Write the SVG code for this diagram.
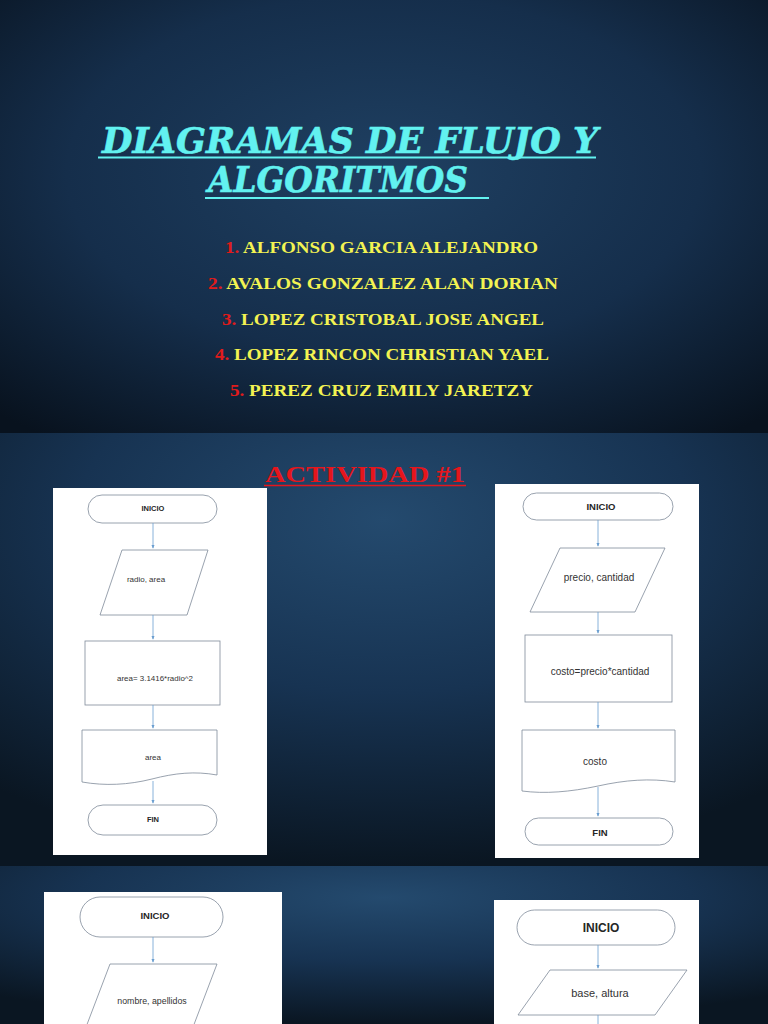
<svg xmlns="http://www.w3.org/2000/svg" width="768" height="1024" viewBox="0 0 768 1024">
<defs>
<radialGradient id="bg1" cx="0.5" cy="0.4" r="0.75">
<stop offset="0" stop-color="#1f4062"/><stop offset="0.55" stop-color="#152e4b"/><stop offset="1" stop-color="#08121e"/>
</radialGradient>
<radialGradient id="bg2" cx="0.5" cy="0.2" r="0.8">
<stop offset="0" stop-color="#244a6e"/><stop offset="0.5" stop-color="#173352"/><stop offset="1" stop-color="#0a1622"/>
</radialGradient>
<marker id="ah" viewBox="0 0 6 6" refX="5" refY="3" markerWidth="5" markerHeight="5" orient="auto">
<path d="M0,0.5 L6,3 L0,5.5 Z" fill="#6a9ed0"/>
</marker>
</defs>
<style>
.shape{fill:#ffffff;stroke:#7f8a99;stroke-width:0.8}
.panel{fill:#ffffff}
.lbl{font-family:"Liberation Sans",Arial,sans-serif;font-size:8px;fill:#333333;text-anchor:middle}
.lblb{font-family:"Liberation Sans",Arial,sans-serif;font-size:7.5px;font-weight:bold;fill:#262626;text-anchor:middle}
.conn{stroke:#6a9ed0;stroke-width:0.8;fill:none;marker-end:url(#ah)}
.title{font-family:"DejaVu Serif",serif;font-weight:bold;font-style:italic;font-size:36px;fill:#62f2f0;stroke:#62f2f0;stroke-width:0.6}
.name{font-family:"Liberation Serif","Times New Roman",serif;font-weight:bold;font-size:17.5px;fill:#f3f352}
.num{fill:#e11b1b}
.act{font-family:"Liberation Serif","Times New Roman",serif;font-weight:bold;font-size:24px;fill:#e5161c}
</style>
<!-- slides backgrounds -->
<rect x="0" y="0" width="768" height="433" fill="url(#bg1)"/>
<rect x="0" y="433" width="768" height="433" fill="url(#bg2)"/>
<rect x="0" y="866" width="768" height="158" fill="url(#bg2)"/>
<!-- slide 1 -->
<g id="title">
<text class="title" x="102" y="153" textLength="496" lengthAdjust="spacingAndGlyphs">DIAGRAMAS DE FLUJO Y</text>
<line x1="98" y1="157.5" x2="596" y2="157.5" stroke="#62f2f0" stroke-width="2"/>
<text class="title" x="208" y="192" textLength="260" lengthAdjust="spacingAndGlyphs">ALGORITMOS</text>
<line x1="205" y1="198" x2="489" y2="198" stroke="#62f2f0" stroke-width="2"/>
</g>
<g id="names">
<text class="name" x="225" y="253" textLength="313" lengthAdjust="spacingAndGlyphs"><tspan class="num">1.</tspan> ALFONSO GARCIA ALEJANDRO</text>
<text class="name" x="208" y="289" textLength="350" lengthAdjust="spacingAndGlyphs"><tspan class="num">2.</tspan> AVALOS GONZALEZ ALAN DORIAN</text>
<text class="name" x="222" y="325" textLength="322" lengthAdjust="spacingAndGlyphs"><tspan class="num">3.</tspan> LOPEZ CRISTOBAL JOSE ANGEL</text>
<text class="name" x="215" y="360" textLength="334" lengthAdjust="spacingAndGlyphs"><tspan class="num">4.</tspan> LOPEZ RINCON CHRISTIAN YAEL</text>
<text class="name" x="230" y="396" textLength="303" lengthAdjust="spacingAndGlyphs"><tspan class="num">5.</tspan> PEREZ CRUZ EMILY JARETZY</text>
</g>
<!-- slide 2 -->
<g id="actividad">
<text class="act" x="265" y="482" textLength="200" lengthAdjust="spacingAndGlyphs">ACTIVIDAD #1</text>
<line x1="264" y1="485.5" x2="466" y2="485.5" stroke="#e5161c" stroke-width="1.5"/>
</g>
<rect class="panel" x="53" y="488" width="214" height="367"/>
<rect class="panel" x="495" y="484" width="204" height="374"/>
<rect class="panel" x="44" y="892" width="238" height="140"/>
<rect class="panel" x="494" y="900" width="205" height="130"/>
<!-- left flowchart -->
<g id="a-inicio"><rect class="shape" x="88" y="495" width="129" height="28" rx="14"/><text class="lblb" x="153" y="511">INICIO</text></g>
<g id="a-entrada"><polygon class="shape" points="122,550 208,550 187,615 100,615"/><text class="lbl" x="146" y="582">radio, area</text></g>
<g id="a-proceso"><rect class="shape" x="85" y="641" width="135" height="64"/><text class="lbl" x="155" y="681" textLength="76" lengthAdjust="spacingAndGlyphs" style="text-anchor:start" transform="translate(-38,0)">area= 3.1416*radio^2</text></g>
<g id="a-salida"><path class="shape" d="M82,730 H217 V775 C195,771 175,773 152,779 C128,785 105,786 82,782 Z"/><text class="lbl" x="153" y="760">area</text></g>
<g id="a-fin"><rect class="shape" x="88" y="805" width="129" height="30" rx="15"/><text class="lblb" x="153" y="822">FIN</text></g>
<!-- right flowchart -->
<g id="b-inicio"><rect class="shape" x="523" y="493" width="150" height="27" rx="13.5"/><text class="lblb" x="601" y="510" style="font-size:9.5px">INICIO</text></g>
<g id="b-entrada"><polygon class="shape" points="560,548 665,548 635,612 530,612"/><text class="lbl" x="599" y="581" style="font-size:10px">precio, cantidad</text></g>
<g id="b-proceso"><rect class="shape" x="525" y="635" width="147" height="67"/><text class="lbl" x="600" y="675" style="font-size:10px">costo=precio*cantidad</text></g>
<g id="b-salida"><path class="shape" d="M522,730 H675 V782 C650,778 625,780 598,786 C570,792 545,794 522,791 Z"/><text class="lbl" x="595" y="765" style="font-size:10px">costo</text></g>
<g id="b-fin"><rect class="shape" x="525" y="818" width="148" height="27" rx="13.5"/><text class="lblb" x="600" y="836" style="font-size:9.5px">FIN</text></g>
<!-- slide 3 flowcharts -->
<g id="c-inicio"><rect class="shape" x="80" y="897" width="143" height="40" rx="20"/><text class="lblb" x="155" y="919" style="font-size:9.5px">INICIO</text></g>
<g id="c-entrada"><polygon class="shape" points="110,964 217,964 190,1035 83,1035"/><text class="lbl" x="152" y="1004" style="font-size:8.8px">nombre, apellidos</text></g>
<g id="d-inicio"><rect class="shape" x="517" y="910" width="158" height="35" rx="17.5"/><text class="lblb" x="601" y="932" style="font-size:12px">INICIO</text></g>
<g id="d-entrada"><polygon class="shape" points="550,970 687,970 655,1015 518,1015"/><text class="lbl" x="600" y="997" style="font-size:11px">base, altura</text></g>
<g id="connectors">
<line class="conn" x1="153" y1="523" x2="153" y2="548"/>
<line class="conn" x1="153" y1="615" x2="153" y2="639"/>
<line class="conn" x1="153" y1="705" x2="153" y2="728"/>
<line class="conn" x1="153" y1="781" x2="153" y2="803"/>
<line class="conn" x1="598" y1="520" x2="598" y2="546"/>
<line class="conn" x1="598" y1="612" x2="598" y2="633"/>
<line class="conn" x1="598" y1="702" x2="598" y2="728"/>
<line class="conn" x1="598" y1="787" x2="598" y2="816"/>
<line class="conn" x1="153" y1="937" x2="153" y2="962"/>
<line class="conn" x1="598" y1="945" x2="598" y2="968"/>
<line x1="598" y1="1015" x2="598" y2="1024" stroke="#6a9ed0" stroke-width="0.8"/>
</g>
</svg>
